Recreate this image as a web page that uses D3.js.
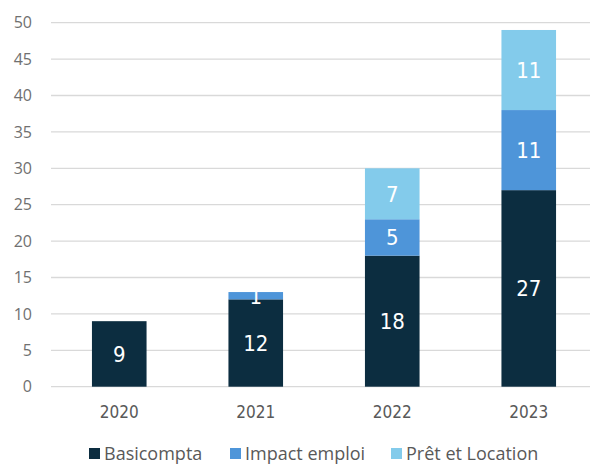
<!DOCTYPE html>
<html>
<head>
<meta charset="utf-8">
<script src="https://cdn.jsdelivr.net/npm/d3@7"></script>
<style>
  body { margin: 0; background: #fff; }
  svg { display: block; }
</style>
</head>
<body>
<svg class="chart"></svg>
<script>
//Data
let years = ['2020', '2021', '2022', '2023'];
let seriesNames = ['Basicompta', 'Impact emploi', 'Prêt et Location'];
let basicompta = [9, 12, 18, 27];
let impactEmploi = [0, 1, 5, 11];
let pretLocation = [0, 0, 7, 11];
let yTicks = [0, 5, 10, 15, 20, 25, 30, 35, 40, 45, 50];
let colors = ['#0c2d40', '#4e95d9', '#83cbeb'];

//Build rows for stacking
let rows = years.map((y, i) => ({
  year: y,
  'Basicompta': basicompta[i],
  'Impact emploi': impactEmploi[i],
  'Prêt et Location': pretLocation[i],
}));

//Parameters for svg
let width = 590;
let height = 464;
let plot = { left: 51, right: 597, top: 22.7, bottom: 386.7 };
let narrow = '"DejaVu Sans Condensed", "Liberation Sans Narrow", sans-serif';

let svg = d3.select('svg.chart')
  .attr('width', width)
  .attr('height', height);

//Scales
let x = d3.scaleBand().domain(years).range([plot.left, plot.right]).paddingInner(0.6).paddingOuter(0.3);
let y = d3.scaleLinear().domain([0, 50]).range([plot.bottom, plot.top]);
let color = d3.scaleOrdinal().domain(seriesNames).range(colors);

//Gridlines
svg.append('g')
  .selectAll('line')
  .data(yTicks)
  .enter()
  .append('line')
    .attr('x1', plot.left)
    .attr('x2', plot.right)
    .attr('y1', d => y(d))
    .attr('y2', d => y(d))
    .attr('stroke', '#d9d9d9')
    .attr('stroke-width', 1.3);

//Y axis labels
svg.append('g')
  .selectAll('text')
  .data(yTicks)
  .enter()
  .append('text')
    .attr('x', 32)
    .attr('y', d => y(d))
    .attr('dy', '0.36em')
    .attr('text-anchor', 'end')
    .attr('font-family', '"Open Sans", sans-serif')
    .attr('font-size', 16)
    .attr('fill', '#707070')
    .text(d => d);

//X axis labels
svg.append('g')
  .selectAll('text')
  .data(years)
  .enter()
  .append('text')
    .attr('x', d => x(d) + x.bandwidth() / 2)
    .attr('y', 418)
    .attr('text-anchor', 'middle')
    .attr('font-family', narrow)
    .attr('font-size', 17)
    .attr('fill', '#595959')
    .text(d => d);

//Stacked bars
let stacked = d3.stack().keys(seriesNames)(rows);

let layers = svg.append('g')
  .selectAll('g')
  .data(stacked)
  .enter()
  .append('g')
    .attr('fill', d => color(d.key));

layers.selectAll('rect')
  .data(d => d.filter(s => s[1] - s[0] > 0))
  .enter()
  .append('rect')
    .attr('x', d => x(d.data.year))
    .attr('width', x.bandwidth())
    .attr('y', d => y(d[1]))
    .attr('height', d => y(d[0]) - y(d[1]));

//Data labels
layers.selectAll('text')
  .data(d => d.filter(s => s[1] - s[0] > 0))
  .enter()
  .append('text')
    .attr('x', d => x(d.data.year) + x.bandwidth() / 2)
    .attr('y', d => y((d[0] + d[1]) / 2))
    .attr('dy', '0.36em')
    .attr('text-anchor', 'middle')
    .attr('font-family', narrow)
    .attr('font-size', 22)
    .attr('fill', '#ffffff')
    .text(d => d[1] - d[0]);

//Legend
let legendX = [89, 230, 391];
let legend = svg.append('g')
  .selectAll('g')
  .data(seriesNames)
  .enter()
  .append('g')
    .attr('transform', (d, i) => 'translate(' + legendX[i] + ',448)');

legend.append('rect')
  .attr('width', 11)
  .attr('height', 11)
  .attr('fill', d => color(d));

legend.append('text')
  .attr('x', 15)
  .attr('y', 5.5)
  .attr('dy', '0.36em')
  .attr('font-family', '"Open Sans", sans-serif')
  .attr('font-size', 18)
  .attr('fill', '#595959')
  .text(d => d);
</script>
</body>
</html>
